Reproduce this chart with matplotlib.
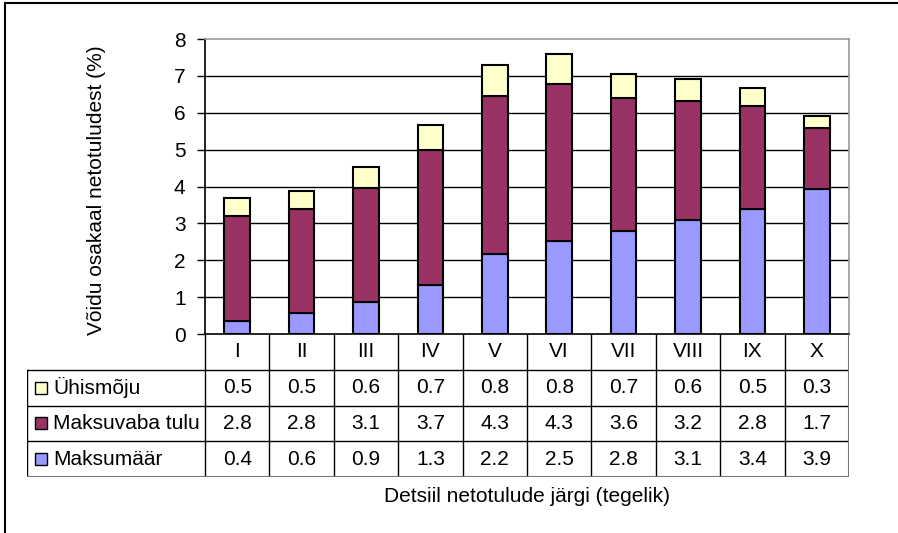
import numpy as np
import matplotlib
matplotlib.use('Agg')
import matplotlib.pyplot as plt
from matplotlib.lines import Line2D
from matplotlib.patches import Rectangle

plt.rcParams['font.family'] = ['Liberation Sans', 'DejaVu Sans']

categories = ['I', 'II', 'III', 'IV', 'V', 'VI', 'VII', 'VIII', 'IX', 'X']
maksumaar = [0.36, 0.58, 0.86, 1.32, 2.16, 2.52, 2.79, 3.09, 3.38, 3.93]
maksuvaba = [2.83, 2.80, 3.10, 3.66, 4.30, 4.26, 3.61, 3.22, 2.79, 1.66]
uhismoju = [0.51, 0.50, 0.57, 0.69, 0.84, 0.80, 0.66, 0.60, 0.51, 0.33]

series_names = ['Ühismõju', 'Maksuvaba tulu', 'Maksumäär']
series_colors = ['#FFFFCC', '#993366', '#9999FF']

W, H = 898, 533
fig = plt.figure(figsize=(W / 100, H / 100), dpi=100)

# plot area in pixels
left, right, top, bottom = 205, 849, 39, 334
ax = fig.add_axes([left / W, 1 - bottom / H, (right - left) / W, (bottom - top) / H])

x = np.arange(len(categories))
fs = 15
bw = 0.4
ax.bar(x, maksumaar, bw, color=series_colors[2], edgecolor='black', linewidth=1.5, zorder=3)
ax.bar(x, maksuvaba, bw, bottom=maksumaar, color=series_colors[1], edgecolor='black', linewidth=1.5, zorder=3)
b2 = np.array(maksumaar) + np.array(maksuvaba)
ax.bar(x, uhismoju, bw, bottom=b2, color=series_colors[0], edgecolor='black', linewidth=1.5, zorder=3)

ax.set_xlim(-0.5, len(categories) - 0.5)
ax.set_ylim(0, 8)
ax.set_yticks(range(0, 9))
ax.tick_params(axis='y', labelsize=fs, length=6, width=1, pad=8)
ax.set_xticks([])
for v in range(1, 8):
    ax.axhline(v, color='black', linewidth=1, zorder=1)
ax.spines['top'].set_color('#999999')
ax.spines['right'].set_color('#999999')
for s in ax.spines.values():
    s.set_linewidth(1.2)

# data table below the plot
tleft, tbottom = 27, 477
unit = (right - left) / len(categories)
extra = (left - tleft) / unit
tax = fig.add_axes([tleft / W, 1 - tbottom / H, (right - tleft) / W, (tbottom - bottom) / H])
tax.set_xlim(-0.5 - extra, len(categories) - 0.5)
tax.set_ylim(0, 4)
tax.axis('off')

x0 = -0.5 - extra
xr = len(categories) - 0.5
for k in range(len(categories)):
    tax.plot([-0.5 + k, -0.5 + k], [0, 4], color='black', lw=1)
tax.plot([x0, x0], [0, 3], color='black', lw=1)
for yy in [1, 2, 3]:
    tax.plot([x0, xr], [yy, yy], color='black', lw=1)
tax.plot([x0, xr], [0, 0], color='#777777', lw=1.5)
tax.plot([xr, xr], [0, 4], color='#777777', lw=1.5)

for i, c in enumerate(categories):
    tax.text(i, 3.5, c, ha='center', va='center', fontsize=fs)

rows = [uhismoju, maksuvaba, maksumaar]
for r, (name, col, vals) in enumerate(zip(series_names, series_colors, rows)):
    yc = 2.5 - r
    for i, v in enumerate(vals):
        tax.text(i, yc, f'{v:.1f}', ha='center', va='center', fontsize=fs)
    ks = 12 / unit
    tax.add_patch(Rectangle((x0 + 8 / unit, yc - 0.17), ks, 0.34, facecolor=col,
                            edgecolor='black', lw=1))
    tax.text(x0 + 26 / unit, yc, name, ha='left', va='center', fontsize=fs)

fig.text(97 / W, 1 - 190 / H, 'Võidu osakaal netotuludest (%)', rotation=90,
         ha='center', va='center', fontsize=fs)
fig.text(527 / W, 1 - 497 / H, 'Detsiil netotulude järgi (tegelik)',
         ha='center', va='center', fontsize=fs)

# outer frame
fig.add_artist(Line2D([5 / W, 5 / W], [0, 1 - 3 / H], color='black', lw=1.5))
fig.add_artist(Line2D([5 / W, 1], [1 - 3 / H, 1 - 3 / H], color='black', lw=1.5))

fig.savefig('out.png', dpi=100)
